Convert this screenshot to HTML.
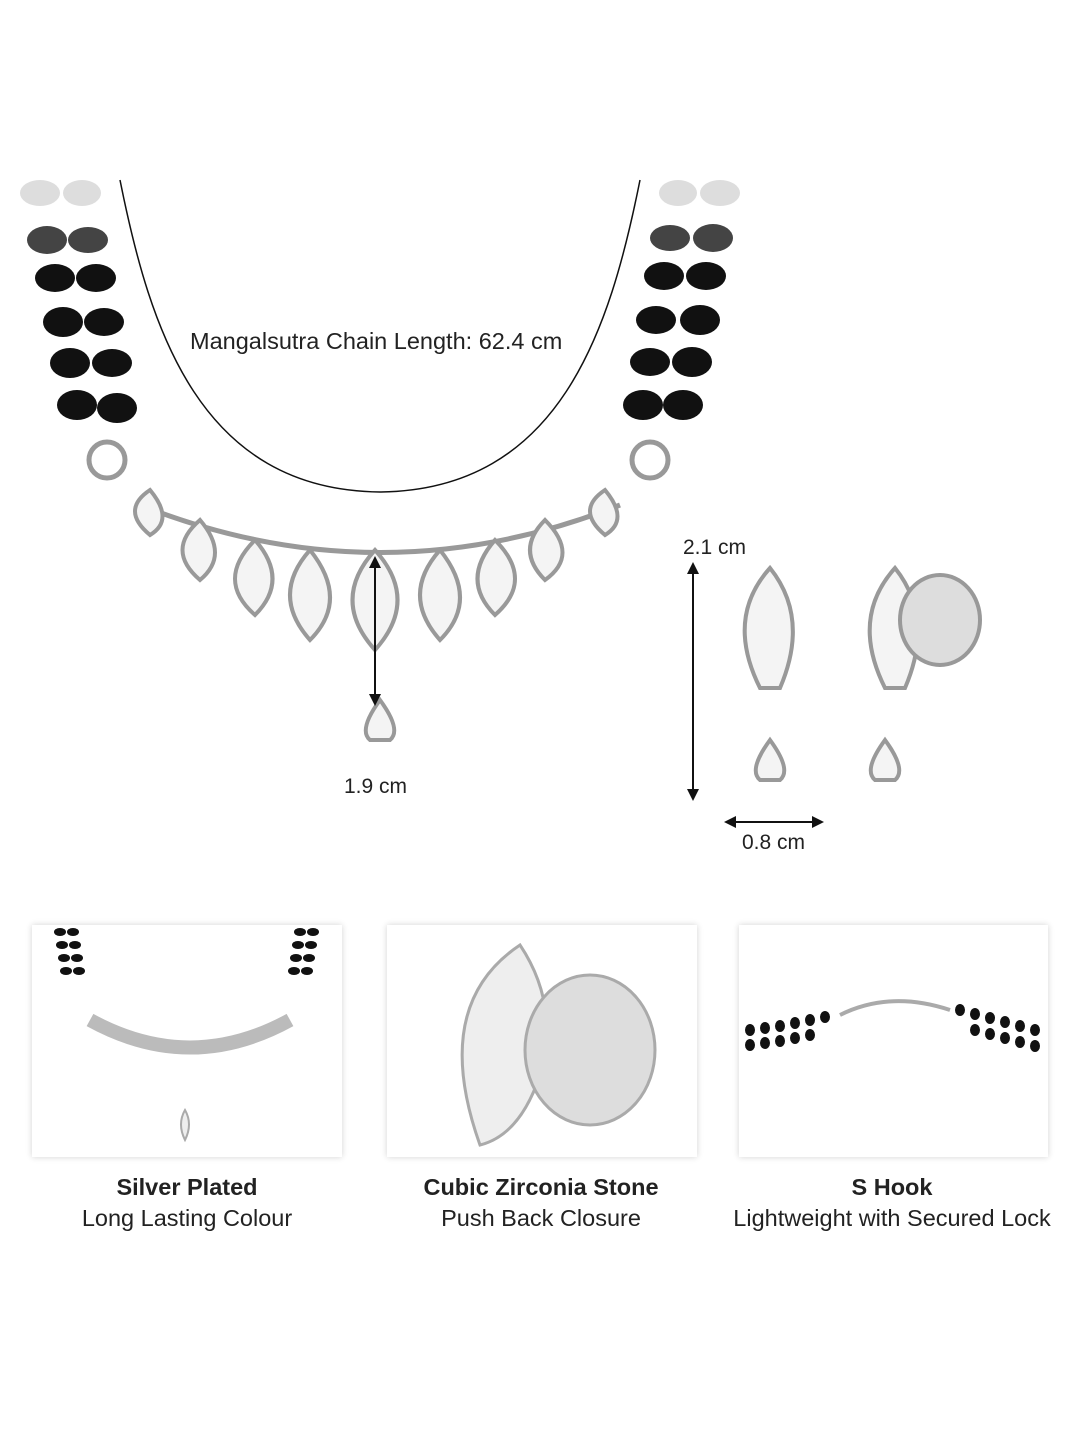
<!DOCTYPE html>
<html><head><style>
body{margin:0;background:#fff;width:1080px;height:1440px;position:relative;overflow:hidden;font-family:"Liberation Sans",sans-serif}
.t{position:absolute;color:#222;font-size:21px;white-space:nowrap}
.box{position:absolute;top:925px;height:232px;background:#fff;box-shadow:0 0 6px rgba(0,0,0,.18)}
.c{position:absolute;width:400px;text-align:center;font-size:23.5px;color:#222}
</style></head><body>
<svg width="1080" height="1440" style="position:absolute;left:0;top:0">
<defs><marker id="a" viewBox="0 0 10 10" refX="5" refY="5" markerWidth="6" markerHeight="6" orient="auto-start-reverse"><path d="M0,0L10,5L0,10z" fill="#111"/></marker></defs>
<path d="M120,180 C150,330 200,490 380,492 C560,490 610,330 640,180" fill="none" stroke="#111" stroke-width="1.5"/>
<g fill="#111">
<ellipse cx="40" cy="193" rx="20" ry="13" fill="#ddd"/><ellipse cx="82" cy="193" rx="19" ry="13" fill="#ddd"/>
<ellipse cx="47" cy="240" rx="20" ry="14" fill="#444"/><ellipse cx="88" cy="240" rx="20" ry="13" fill="#444"/>
<ellipse cx="55" cy="278" rx="20" ry="14"/><ellipse cx="96" cy="278" rx="20" ry="14"/>
<ellipse cx="63" cy="322" rx="20" ry="15"/><ellipse cx="104" cy="322" rx="20" ry="14"/>
<ellipse cx="70" cy="363" rx="20" ry="15"/><ellipse cx="112" cy="363" rx="20" ry="14"/>
<ellipse cx="77" cy="405" rx="20" ry="15"/><ellipse cx="117" cy="408" rx="20" ry="15"/>
<ellipse cx="720" cy="193" rx="20" ry="13" fill="#ddd"/><ellipse cx="678" cy="193" rx="19" ry="13" fill="#ddd"/>
<ellipse cx="713" cy="238" rx="20" ry="14" fill="#444"/><ellipse cx="670" cy="238" rx="20" ry="13" fill="#444"/>
<ellipse cx="706" cy="276" rx="20" ry="14"/><ellipse cx="664" cy="276" rx="20" ry="14"/>
<ellipse cx="700" cy="320" rx="20" ry="15"/><ellipse cx="656" cy="320" rx="20" ry="14"/>
<ellipse cx="692" cy="362" rx="20" ry="15"/><ellipse cx="650" cy="362" rx="20" ry="14"/>
<ellipse cx="683" cy="405" rx="20" ry="15"/><ellipse cx="643" cy="405" rx="20" ry="15"/>
</g>
<g fill="none" stroke="#999" stroke-width="5">
<circle cx="107" cy="460" r="18"/><circle cx="650" cy="460" r="18"/>
<path d="M140,505 Q380,600 620,505"/>
</g>
<g fill="#f4f4f4" stroke="#999" stroke-width="4">
<path d="M150,490 q-30,20 0,45 q25,-15 0,-45z"/>
<path d="M200,520 q-35,30 0,60 q30,-25 0,-60z"/>
<path d="M255,540 q-40,40 0,75 q35,-35 0,-75z"/>
<path d="M310,550 q-40,45 0,90 q40,-40 0,-90z"/>
<path d="M375,550 q-45,50 0,100 q45,-50 0,-100z"/>
<path d="M440,550 q-40,45 0,90 q40,-40 0,-90z"/>
<path d="M495,540 q-35,40 0,75 q40,-35 0,-75z"/>
<path d="M545,520 q-30,30 0,60 q35,-25 0,-60z"/>
<path d="M605,490 q-30,20 0,45 q25,-15 0,-45z"/>
<path d="M380,700 q-22,30 -10,40 h20 q12,-10 -10,-40z"/>
<path d="M770,568 q-45,50 -10,120 h20 q30,-70 -10,-120z"/>
<path d="M770,740 q-22,30 -10,40 h20 q12,-10 -10,-40z"/>
<path d="M895,568 q-45,50 -10,120 h20 q30,-70 -10,-120z"/>
<ellipse cx="940" cy="620" rx="40" ry="45" fill="#ddd"/>
<path d="M885,740 q-22,30 -10,40 h20 q12,-10 -10,-40z"/>
</g>
<g stroke="#111" stroke-width="2" marker-start="url(#a)" marker-end="url(#a)">
<line x1="375" y1="562" x2="375" y2="700"/>
<line x1="693" y1="568" x2="693" y2="795"/>
<line x1="730" y1="822" x2="818" y2="822"/>
</g>
</svg>
<div class="box" style="left:32px;width:310px"></div>
<div class="box" style="left:387px;width:310px"></div>
<div class="box" style="left:739px;width:309px"></div>
<svg width="1080" height="1440" style="position:absolute;left:0;top:0">
<g fill="#111">
<ellipse cx="60" cy="932" rx="6" ry="4"/><ellipse cx="73" cy="932" rx="6" ry="4"/>
<ellipse cx="62" cy="945" rx="6" ry="4"/><ellipse cx="75" cy="945" rx="6" ry="4"/>
<ellipse cx="64" cy="958" rx="6" ry="4"/><ellipse cx="77" cy="958" rx="6" ry="4"/>
<ellipse cx="66" cy="971" rx="6" ry="4"/><ellipse cx="79" cy="971" rx="6" ry="4"/>
<ellipse cx="300" cy="932" rx="6" ry="4"/><ellipse cx="313" cy="932" rx="6" ry="4"/>
<ellipse cx="298" cy="945" rx="6" ry="4"/><ellipse cx="311" cy="945" rx="6" ry="4"/>
<ellipse cx="296" cy="958" rx="6" ry="4"/><ellipse cx="309" cy="958" rx="6" ry="4"/>
<ellipse cx="294" cy="971" rx="6" ry="4"/><ellipse cx="307" cy="971" rx="6" ry="4"/>
</g>
<path d="M90,1020 Q190,1075 290,1020" fill="none" stroke="#bbb" stroke-width="14"/>
<path d="M185,1110 q-8,14 0,30 q8,-16 0,-30z" fill="#eee" stroke="#aaa" stroke-width="2"/>
<path d="M520,945 q-90,60 -40,200 q40,-10 60,-70 q20,-70 -20,-130z" fill="#eee" stroke="#aaa" stroke-width="3"/>
<ellipse cx="590" cy="1050" rx="65" ry="75" fill="#ddd" stroke="#aaa" stroke-width="3"/>
<g fill="#111">
<ellipse cx="750" cy="1030" rx="5" ry="6"/><ellipse cx="765" cy="1028" rx="5" ry="6"/><ellipse cx="780" cy="1026" rx="5" ry="6"/><ellipse cx="795" cy="1023" rx="5" ry="6"/><ellipse cx="810" cy="1020" rx="5" ry="6"/><ellipse cx="825" cy="1017" rx="5" ry="6"/>
<ellipse cx="750" cy="1045" rx="5" ry="6"/><ellipse cx="765" cy="1043" rx="5" ry="6"/><ellipse cx="780" cy="1041" rx="5" ry="6"/><ellipse cx="795" cy="1038" rx="5" ry="6"/><ellipse cx="810" cy="1035" rx="5" ry="6"/>
<ellipse cx="960" cy="1010" rx="5" ry="6"/><ellipse cx="975" cy="1014" rx="5" ry="6"/><ellipse cx="990" cy="1018" rx="5" ry="6"/><ellipse cx="1005" cy="1022" rx="5" ry="6"/><ellipse cx="1020" cy="1026" rx="5" ry="6"/><ellipse cx="1035" cy="1030" rx="5" ry="6"/>
<ellipse cx="975" cy="1030" rx="5" ry="6"/><ellipse cx="990" cy="1034" rx="5" ry="6"/><ellipse cx="1005" cy="1038" rx="5" ry="6"/><ellipse cx="1020" cy="1042" rx="5" ry="6"/><ellipse cx="1035" cy="1046" rx="5" ry="6"/>
</g>
<path d="M840,1015 Q890,990 950,1010" fill="none" stroke="#aaa" stroke-width="4"/>
</svg>
<div class="t" style="left:190px;top:328px;font-size:23.5px">Mangalsutra Chain Length: 62.4 cm</div>
<div class="t" style="left:344px;top:775px">1.9 cm</div>
<div class="t" style="left:683px;top:536px">2.1 cm</div>
<div class="t" style="left:742px;top:831px">0.8 cm</div>
<div class="c" style="left:-13px;top:1174px"><b>Silver Plated</b><br><span style="line-height:34px">Long Lasting Colour</span></div>
<div class="c" style="left:341px;top:1174px"><b>Cubic Zirconia Stone</b><br><span style="line-height:34px">Push Back Closure</span></div>
<div class="c" style="left:692px;top:1174px"><b>S Hook</b><br><span style="line-height:34px">Lightweight with Secured Lock</span></div>
</body></html>
